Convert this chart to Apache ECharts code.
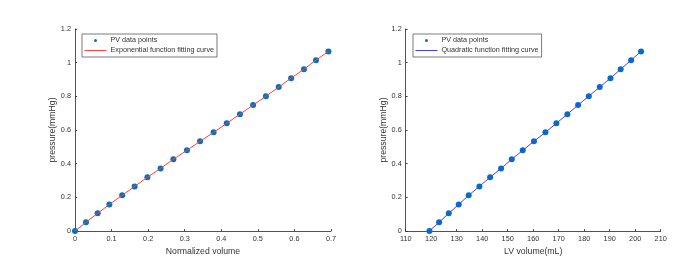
<!DOCTYPE html>
<html><head><meta charset="utf-8">
<script src="https://cdn.jsdelivr.net/npm/echarts@6/dist/echarts.min.js"></script>
<style>html,body{margin:0;padding:0;background:#fff;}#c{width:679px;height:268px;}</style>
</head><body><div id="c"></div>
<script>
const pressure = [0, 0.052, 0.105, 0.158, 0.212, 0.265, 0.319, 0.372, 0.426, 0.479, 0.533, 0.586, 0.640, 0.694, 0.748, 0.801, 0.855, 0.908, 0.961, 1.015, 1.067];
const normVol = [0, 0.030, 0.062, 0.094, 0.129, 0.163, 0.198, 0.234, 0.269, 0.306, 0.342, 0.379, 0.415, 0.451, 0.487, 0.522, 0.557, 0.591, 0.626, 0.659, 0.693];
const lvVol = [119.3, 123.1, 126.9, 130.8, 134.7, 138.9, 143.1, 147.4, 151.6, 155.9, 160.3, 164.8, 169.1, 173.4, 177.6, 181.8, 186.1, 190.3, 194.3, 198.4, 202.3];
const yTicks = {min: 0, max: 1.2, interval: 0.2};
const xTicksL = {min: 0, max: 0.7, interval: 0.1};
const xTicksR = {min: 110, max: 210, interval: 10};
const legendNames = ['PV data points', 'Exponential function fitting curve', 'Quadratic function fitting curve'];

const FONT = 'Liberation Sans';
const TXT = '#333333';
const AX = '#262626';
function xAxis(gi, t, name) {
  return {
    type: 'value', gridIndex: gi, min: t.min, max: t.max, interval: t.interval,
    name: name, nameLocation: 'middle', nameGap: 15,
    nameTextStyle: {fontFamily: FONT, fontSize: 8.7, color: TXT},
    axisLine: {show: true, onZero: false, lineStyle: {color: AX, width: 0.8}},
    axisTick: {show: true, inside: true, length: 2, lineStyle: {color: AX, width: 0.8}},
    axisLabel: {fontFamily: FONT, fontSize: 7.3, color: TXT, margin: 4},
    splitLine: {show: false}
  };
}
function yAxis(gi) {
  return {
    type: 'value', gridIndex: gi, min: yTicks.min, max: yTicks.max, interval: yTicks.interval,
    name: 'pressure(mmHg)', nameLocation: 'middle', nameGap: 12,
    nameTextStyle: {fontFamily: FONT, fontSize: 8.7, color: TXT},
    axisLine: {show: true, onZero: false, lineStyle: {color: AX, width: 0.8}},
    axisTick: {show: true, inside: true, length: 2, lineStyle: {color: AX, width: 0.8}},
    axisLabel: {fontFamily: FONT, fontSize: 7.3, color: TXT, margin: 4},
    splitLine: {show: false}
  };
}
function legend(left, names) {
  return {
    orient: 'vertical', left: left, top: 34, itemWidth: 22, itemHeight: 3, itemGap: 1,
    padding: [2, 3, 2, 2], borderColor: '#444', borderWidth: 0.7, backgroundColor: '#fff',
    lineStyle: {width: 1},
    textStyle: {fontFamily: FONT, fontSize: 7.2, color: TXT, lineHeight: 9, padding: [0, 0, 0, -1]},
    data: names
  };
}
const hidden = {color: 'rgba(0,0,0,0)', borderColor: 'rgba(0,0,0,0)', borderWidth: 0};
const chart = echarts.init(document.getElementById('c'), null, {renderer: 'canvas'});
const pts = (xs) => xs.map((x, i) => [x, pressure[i]]);
chart.setOption({
  animation: false,
  grid: [
    {left: 75, top: 29, width: 256, height: 202},
    {left: 405.7, top: 29, width: 255, height: 202}
  ],
  xAxis: [xAxis(0, xTicksL, 'Normalized volume'), xAxis(1, xTicksR, 'LV volume(mL)')],
  yAxis: [yAxis(0), yAxis(1)],
  legend: [
    legend(82, [{name: legendNames[0], itemStyle: {color: '#0072BD'}}, {name: legendNames[1], itemStyle: hidden}]),
    legend(413, [{name: legendNames[0] + ' ', itemStyle: {color: '#0072BD'}}, {name: legendNames[2], itemStyle: hidden}])
  ],
  series: [
    {type: 'scatter', name: legendNames[0], xAxisIndex: 0, yAxisIndex: 0, data: pts(normVol), symbolSize: 6, itemStyle: {color: '#0072BD', opacity: 1}, z: 2},
    {type: 'line', name: legendNames[1], xAxisIndex: 0, yAxisIndex: 0, data: pts(normVol), symbol: 'none', lineStyle: {color: '#ff4040', width: 1}, itemStyle: {color: '#ff4040'}, z: 3},
    {type: 'scatter', name: legendNames[0] + ' ', xAxisIndex: 1, yAxisIndex: 1, data: pts(lvVol), symbolSize: 6, itemStyle: {color: '#0072BD', opacity: 1}, z: 2},
    {type: 'line', name: legendNames[2], xAxisIndex: 1, yAxisIndex: 1, data: pts(lvVol), symbol: 'none', lineStyle: {color: '#4040ff', width: 1}, itemStyle: {color: '#4040ff'}, z: 3}
  ]
});
</script></body></html>
